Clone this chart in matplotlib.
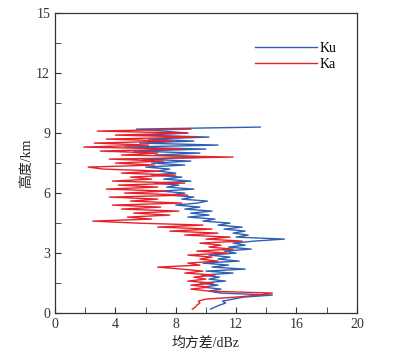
import matplotlib
matplotlib.use("Agg")
import matplotlib.pyplot as plt
from matplotlib.ticker import MultipleLocator

heights = [0.2, 0.3, 0.4, 0.5, 0.6, 0.7, 0.8, 0.9, 1.0, 1.1, 1.2, 1.3, 1.4, 1.5, 1.6, 1.7, 1.8, 1.9,
           2.0, 2.1, 2.2, 2.3, 2.4, 2.5, 2.6, 2.7, 2.8, 2.9, 3.0, 3.1, 3.2, 3.3, 3.4, 3.5, 3.6, 3.7,
           3.8, 3.9, 4.0, 4.1, 4.2, 4.3, 4.4, 4.5, 4.6, 4.7, 4.8, 4.9, 5.0, 5.1, 5.2, 5.3, 5.4, 5.5,
           5.6, 5.7, 5.8, 5.9, 6.0, 6.1, 6.2, 6.3, 6.4, 6.5, 6.6, 6.7, 6.8, 6.9, 7.0, 7.1, 7.2, 7.3,
           7.4, 7.5, 7.6, 7.7, 7.8, 7.9, 8.0, 8.1, 8.2, 8.3, 8.4, 8.5, 8.6, 8.7, 8.8, 8.9, 9.0, 9.1,
           9.2, 9.3]

ku = [10.3, 10.6, 10.9, 11.3, 11.1, 11.8, 12.5, 14.4, 11.0, 10.2, 11.0, 9.8, 10.8, 9.6, 11.3, 10.2, 10.9, 9.7,
      11.8, 10.0, 12.6, 10.4, 11.5, 9.8, 12.2, 10.8, 11.6, 10.2, 12.0, 11.2, 13.0, 11.5, 12.6, 11.8, 13.2, 15.2,
      12.0, 12.8, 11.8, 12.6, 11.2, 12.4, 10.8, 11.6, 9.8, 10.6, 8.8, 10.2, 9.0, 10.4, 8.6, 9.6, 8.0, 9.4,
      10.1, 8.4, 9.2, 7.6, 8.6, 7.0, 9.2, 7.4, 8.2, 6.6, 9.0, 7.2, 8.4, 6.4, 8.0, 6.8, 7.6, 6.0,
      8.6, 6.4, 9.0, 5.8, 10.4, 6.6, 9.6, 5.2, 10.0, 4.6, 10.8, 5.6, 9.2, 6.2, 10.2, 5.8, 8.8, 7.2,
      5.4, 13.6]

ka = [9.1, 9.3, 9.4, 9.6, 9.5, 10.0, 12.0, 13.5, 14.4, 10.2, 9.0, 10.2, 9.0, 10.5, 8.8, 10.0, 9.2, 10.6,
      8.6, 9.8, 8.4, 6.8, 9.6, 8.8, 10.8, 9.6, 10.4, 8.8, 11.4, 9.4, 11.8, 10.2, 11.0, 9.6, 12.4, 10.0,
      11.6, 8.6, 10.8, 7.6, 10.4, 6.8, 9.8, 5.4, 2.5, 6.4, 4.8, 7.6, 5.2, 8.2, 4.4, 7.0, 3.8, 8.4,
      5.0, 6.8, 3.6, 8.8, 4.6, 7.4, 3.4, 6.8, 4.2, 8.6, 3.8, 6.4, 5.0, 8.0, 4.4, 7.0, 3.2, 2.2,
      6.6, 4.0, 7.2, 3.6, 11.8, 4.4, 6.8, 3.0, 8.4, 1.9, 6.2, 2.6, 7.8, 3.4, 9.4, 4.0, 8.8, 2.8,
      9.0]

series_names = ["Ku", "Ka"]
colors = ["#2f5fb3", "#e5222b"]

plt.rcParams['font.family'] = ['Liberation Serif', 'Noto Sans CJK SC']

fig = plt.figure(figsize=(3.93, 3.53), dpi=100)
ax = fig.add_axes([0.14, 0.113, 0.768, 0.85])

ax.plot(ku, heights[:len(ku)], color=colors[0], lw=1.0, label=series_names[0])
ax.plot(ka, heights[:len(ka)], color=colors[1], lw=1.0, label=series_names[1])

ax.set_xlim(0, 20)
ax.set_ylim(0, 15)
ax.xaxis.set_major_locator(MultipleLocator(4))
ax.xaxis.set_minor_locator(MultipleLocator(2))
ax.yaxis.set_major_locator(MultipleLocator(3))
ax.yaxis.set_minor_locator(MultipleLocator(1.5))
ax.tick_params(which='both', direction='in', labelsize=10, colors='#333333')
ax.tick_params(which='major', length=4)
ax.tick_params(which='minor', length=4)
for s in ax.spines.values():
    s.set_color('#333333')
    s.set_linewidth(0.9)

ax.set_xlabel("均方差/dBz", fontsize=10, color='#222222', labelpad=4)
ax.set_ylabel("高度/km", fontsize=10, color='#222222', labelpad=2)

ax.legend(loc='upper right', bbox_to_anchor=(0.975, 0.945), frameon=False, fontsize=10,
          handlelength=4.5, handletextpad=0.2, labelspacing=0.2)

fig.savefig("out.png", dpi=100)
